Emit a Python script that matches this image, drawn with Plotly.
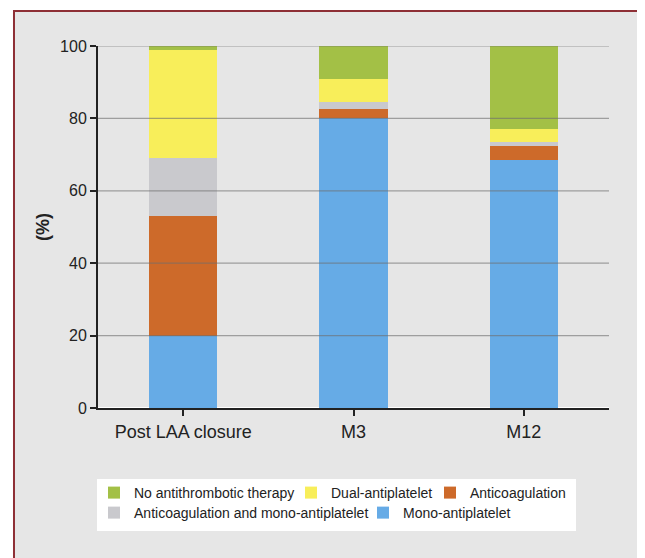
import plotly.graph_objects as go

categories = ["Post LAA closure", "M3", "M12"]
mono_antiplatelet = [20, 80, 68.5]
anticoagulation = [33, 2.5, 4]
anticoag_and_mono = [16, 2, 1]
dual_antiplatelet = [30, 6.5, 3.5]
no_antithrombotic = [1, 9, 23]

series_names = [
    "Mono-antiplatelet",
    "Anticoagulation",
    "Anticoagulation and mono-antiplatelet",
    "Dual-antiplatelet",
    "No antithrombotic therapy",
]
series_values = [mono_antiplatelet, anticoagulation, anticoag_and_mono,
                 dual_antiplatelet, no_antithrombotic]
series_colors = ["#66ABE6", "#CD6A2A", "#C9C9CD", "#F8EE5A", "#A3C046"]
legend_ids = ["legend5", "legend3", "legend4", "legend2", "legend"]

y_ticks = [0, 20, 40, 60, 80, 100]

FONT = "Liberation Sans, Arial, sans-serif"

fig = go.Figure()
for name, vals, col, lg in zip(series_names, series_values, series_colors, legend_ids):
    fig.add_trace(go.Bar(x=categories, y=vals, name=name, legend=lg,
                         marker=dict(color=col, line=dict(width=0))))

shapes = [
    dict(type="rect", xref="paper", yref="paper", x0=-0.1644, x1=1.0607,
         y0=-0.5, y1=1.0967, fillcolor="#E6E6E6",
         line=dict(color="#8E2F35", width=2), layer="below"),
    dict(type="rect", xref="paper", yref="paper", x0=-0.002, x1=0.9354,
         y0=-0.34, y1=-0.196, fillcolor="white", line=dict(width=0),
         layer="below"),
]
for t in y_ticks[1:]:
    shapes.append(dict(type="line", xref="paper", yref="y", x0=0, x1=1,
                       y0=t, y1=t, line=dict(color="rgba(110,110,110,0.6)", width=1.2),
                       layer="above"))

leg_font = dict(family=FONT, size=14, color="#222222")
def leg(x, y):
    return dict(orientation="h", x=x, xanchor="left", y=y, yanchor="middle",
                bgcolor="rgba(0,0,0,0)", font=leg_font, itemwidth=30,
                itemclick=False, itemdoubleclick=False)

fig.update_layout(
    width=645, height=558,
    barmode="stack", bargap=0.6,
    paper_bgcolor="white", plot_bgcolor="white",
    margin=dict(l=90, r=44, t=38, b=158, autoexpand=False),
    font=dict(family=FONT, size=17, color="#222222"),
    shapes=shapes,
    showlegend=True,
    legend=leg(-0.0078, -0.2348),
    legend2=leg(0.3777, -0.2348),
    legend3=leg(0.6497, -0.2348),
    legend4=leg(-0.0078, -0.2901),
    legend5=leg(0.5186, -0.2901),
    xaxis=dict(showline=True, linecolor="#222222", linewidth=2,
               ticks="outside", ticklen=6, tickwidth=1.5, tickcolor="#222222",
               tickfont=dict(size=18)),
    yaxis=dict(range=[0, 100], tickvals=y_ticks, showgrid=False,
               showline=True, linecolor="#222222", linewidth=2,
               ticks="outside", ticklen=6, tickwidth=1.5, tickcolor="#222222",
               tickfont=dict(size=16),
               title=dict(text="<b>(%)</b>", font=dict(size=18), standoff=6)),
)

fig.write_html("out.html")
